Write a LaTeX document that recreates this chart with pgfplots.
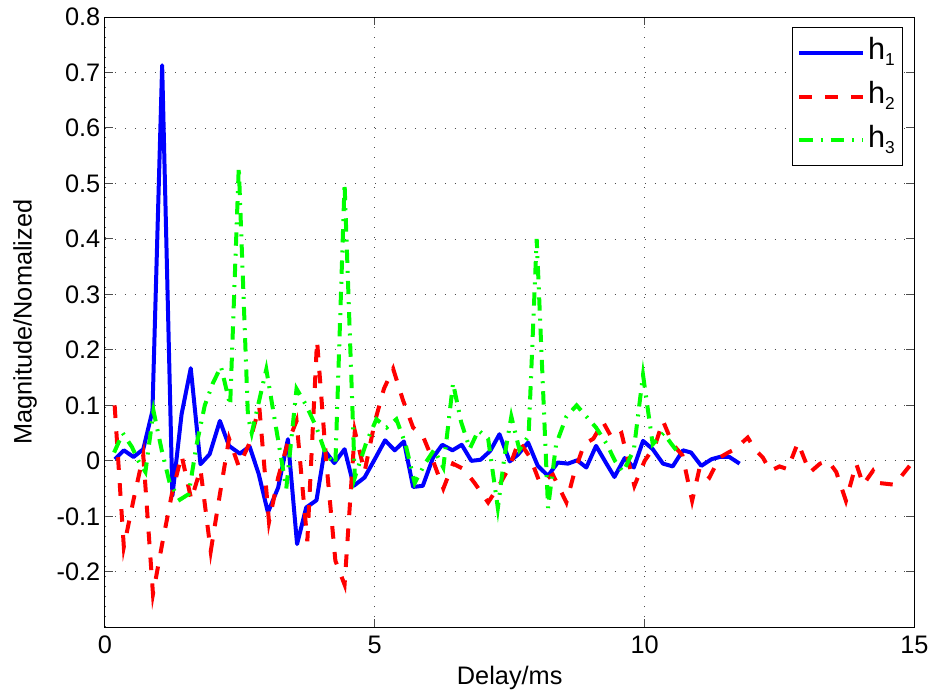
\documentclass[border=0pt]{standalone}
\usepackage{fontspec}
\setmainfont{Liberation Sans}
\usepackage{pgfplots}
\pgfplotsset{compat=1.18}
\newcommand{\hsub}[1]{h\raisebox{-5pt}{\fontsize{13}{13}\selectfont #1}}
\begin{document}
\begin{tikzpicture}
\begin{axis}[
  width=607.5pt, height=458pt, scale only axis,
  xmin=0, xmax=15, ymin=-0.3, ymax=0.8,
  xtick={0,5,10,15},
  ytick={-0.2,-0.1,0,0.1,0.2,0.3,0.4,0.5,0.6,0.7,0.8},
  yticklabels={-0.2,-0.1,0,0.1,0.2,0.3,0.4,0.5,0.6,0.7,0.8},
  /pgf/number format/assume math mode=true,
  tick label style={font=\fontsize{19}{21}\selectfont},
  label style={font=\fontsize{19}{21}\selectfont},
  xlabel={Delay/ms}, ylabel={Magnitude/Nomalized},
  ylabel shift=8pt, xticklabel shift=3pt, xlabel shift=2pt,
  grid=major,
  major grid style={black!70, line width=0.6pt, dash pattern=on 0.7pt off 6.8pt},
  tick align=inside, major tick length=6pt,
  xtick pos=both, ytick pos=both,
  axis line style={line width=0.7pt},
  every tick/.style={line width=0.7pt, black!70},
  legend style={at={(rel axis cs:0.986,0.984)}, anchor=north east,
    font=\fontsize{23}{25}\selectfont, row sep=5pt, inner xsep=4pt, inner ysep=5pt,
    draw=black, line width=0.7pt,
    nodes={text height=17pt, text depth=7pt, inner sep=2pt}},
  legend cell align=left,
  legend image code/.code={\draw[#1] (0pt,0pt) -- (48pt,0pt);},
]
\addplot[color={rgb,255:red,0;green,0;blue,255}, line width=3pt, line join=round] coordinates {
(0.185,0.003)(0.35,0.019)(0.53,0.007)(0.71,0.021)(0.88,0.09)(1.06,0.713)(1.25,-0.063)(1.42,0.084)(1.59,0.167)(1.77,-0.006)(1.94,0.012)(2.13,0.072)(2.30,0.027)(2.50,0.013)(2.68,0.026)(2.85,-0.024)(3.02,-0.093)(3.21,-0.048)(3.39,0.039)(3.56,-0.150)(3.73,-0.084)(3.92,-0.071)(4.07,0.019)(4.25,-0.004)(4.44,0.021)(4.61,-0.045)(4.81,-0.030)(5.0,0.003)(5.19,0.037)(5.37,0.019)(5.54,0.035)(5.71,-0.047)(5.89,-0.045)(6.08,0.006)(6.25,0.029)(6.44,0.019)(6.61,0.029)(6.79,0.0)(6.96,0.002)(7.14,0.018)(7.31,0.048)(7.5,-0.001)(7.65,0.011)(7.84,0.033)(8.02,-0.009)(8.21,-0.027)(8.39,-0.003)(8.58,-0.005)(8.75,0.001)(8.92,-0.012)(9.10,0.027)(9.28,-0.003)(9.44,-0.029)(9.63,0.005)(9.80,-0.012)(9.97,0.036)(10.15,0.021)(10.34,-0.005)(10.52,-0.010)(10.71,0.019)(10.86,0.015)(11.05,-0.009)(11.24,0.003)(11.39,0.007)(11.57,0.007)(11.76,-0.005)
};
\addlegendentry{\hsub{1}}
\addplot[color={rgb,255:red,255;green,0;blue,0}, line width=3pt, dash pattern=on 9.5pt off 10pt] coordinates {
(0.18,0.10)(0.35,-0.155)(0.53,-0.07)(0.71,0.01)(0.89,-0.24)(1.06,-0.15)(1.24,-0.06)(1.42,0.01)(1.60,-0.07)(1.77,-0.015)(1.96,-0.163)(2.13,-0.06)(2.30,0.04)(2.48,-0.01)(2.67,0.03)(2.86,0.097)(3.04,-0.11)(3.21,-0.03)(3.38,0.03)(3.55,0.072)(3.75,-0.145)(3.93,0.217)(4.10,0.0)(4.27,-0.18)(4.44,-0.223)(4.63,0.054)(4.81,-0.02)(5.0,0.07)(5.17,0.13)(5.34,0.166)(5.52,0.11)(5.71,0.06)(5.89,0.045)(6.08,0.0)(6.27,-0.05)(6.45,-0.005)(6.65,-0.015)(6.85,-0.04)(7.1,-0.075)(7.3,-0.045)(7.5,-0.01)(7.67,0.036)(7.88,0.006)(8.06,-0.04)(8.3,-0.025)(8.55,-0.075)(8.7,-0.02)(8.88,0.03)(9.05,0.04)(9.23,0.07)(9.4,0.04)(9.57,0.05)(9.81,-0.045)(10.0,0.0)(10.19,0.027)(10.34,0.072)(10.52,0.03)(10.7,0.01)(10.88,-0.072)(11.02,-0.012)(11.2,-0.03)(11.39,0.006)(11.55,0.015)(11.67,0.021)(11.91,0.042)(12.05,0.02)(12.19,0.006)(12.33,-0.018)(12.5,-0.01)(12.65,-0.015)(12.84,0.033)(13.06,-0.021)(13.25,-0.005)(13.4,0.0)(13.55,-0.02)(13.73,-0.072)(13.92,-0.005)(14.05,-0.043)(14.23,-0.018)(14.35,-0.04)(14.63,-0.043)(14.96,-0.003)(15.0,0.0)
};
\addlegendentry{\hsub{2}}
\addplot[color={rgb,255:red,0;green,255;blue,0}, line width=3pt, dash pattern=on 10pt off 6pt on 1.5pt off 6pt] coordinates {
(0.17,0.015)(0.33,0.05)(0.5,0.025)(0.62,0.0)(0.75,-0.02)(0.9,0.09)(1.05,0.02)(1.2,-0.04)(1.39,-0.07)(1.55,-0.06)(1.7,0.03)(1.85,0.10)(2.0,0.14)(2.15,0.17)(2.32,0.10)(2.48,0.53)(2.65,0.08)(2.72,0.05)(2.99,0.165)(3.17,0.06)(3.36,-0.05)(3.55,0.13)(3.73,0.10)(3.92,0.06)(4.1,0.01)(4.27,-0.005)(4.44,0.50)(4.63,-0.03)(4.85,0.035)(5.03,0.075)(5.22,0.06)(5.4,0.075)(5.57,0.03)(5.74,-0.04)(5.93,-0.005)(6.1,0.02)(6.27,-0.012)(6.45,0.14)(6.6,0.07)(6.76,0.022)(6.92,0.055)(7.1,0.04)(7.28,-0.085)(7.4,0.006)(7.53,0.08)(7.68,0.02)(7.85,0.045)(8.0,0.40)(8.21,-0.085)(8.36,0.03)(8.55,0.08)(8.74,0.10)(8.92,0.08)(9.1,0.06)(9.3,0.03)(9.45,0.0)(9.6,-0.02)(9.8,0.02)(9.97,0.155)(10.15,0.03)(10.35,0.05)(10.5,0.03)(10.62,0.015)
};
\addlegendentry{\hsub{3}}
\end{axis}
\path ([xshift=-78.75pt]current axis.west) ([xshift=13.5pt]current axis.east)
      ([yshift=12.75pt]current axis.north) ([yshift=-49.5pt]current axis.south);
\end{tikzpicture}
\end{document}
